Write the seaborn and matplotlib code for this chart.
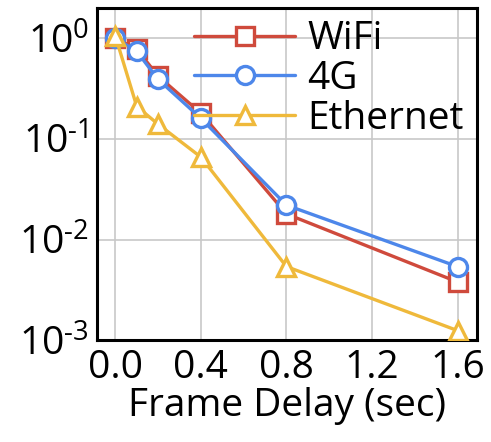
import numpy as np
import pandas as pd
import seaborn as sns
import matplotlib.pyplot as plt

delay = [0.0, 0.1, 0.2, 0.4, 0.8, 1.6]
wifi = [1.0, 0.78, 0.42, 0.18, 0.018, 0.0038]
g4 = [1.0, 0.74, 0.39, 0.16, 0.022, 0.0054]
ethernet = [1.05, 0.21, 0.14, 0.066, 0.0054, 0.00125]
xtick_labels = ["0.0", "0.4", "0.8", "1.2", "1.6"]

series = {"WiFi": wifi, "4G": g4, "Ethernet": ethernet}
colors = {"WiFi": "#cf4a3c", "4G": "#4d87ea", "Ethernet": "#efb93b"}
markers = {"WiFi": "s", "4G": "o", "Ethernet": "^"}

df = pd.concat([pd.DataFrame({"delay": delay, "frac": v, "net": k})
                for k, v in series.items()])

sns.set_style("whitegrid")
plt.rcParams["font.family"] = ["Open Sans", "DejaVu Sans"]
plt.rcParams["mathtext.fontset"] = "custom"
plt.rcParams["mathtext.rm"] = "Open Sans"
plt.rcParams["text.color"] = "black"
plt.rcParams["xtick.color"] = "black"
plt.rcParams["ytick.color"] = "black"
plt.rcParams["axes.labelcolor"] = "black"

fig, ax = plt.subplots(figsize=(4.91, 4.42), dpi=100)
for name in series:
    sub = df[df.net == name]
    sns.lineplot(data=sub, x="delay", y="frac", ax=ax, color=colors[name],
                 marker=markers[name], markersize=13, markerfacecolor="white",
                 markeredgecolor=colors[name], markeredgewidth=2.4,
                 linewidth=2.4, label=name, zorder=3)

ax.set_yscale("log")
ax.set_ylim(1e-3, 2)
ax.set_xlim(-0.085, 1.69)
ax.set_xticks([0.0, 0.4, 0.8, 1.2, 1.6])
ax.set_xticklabels(xtick_labels)
ax.set_yticks([1e-3, 1e-2, 1e-1, 1])
ax.set_yticklabels(["$10^{\u20103}$", "$10^{\u20102}$", "$10^{\u20101}$", "$10^{0}$"])
ax.minorticks_off()
ax.tick_params(labelsize=28, length=0, pad=6)
ax.set_xlabel("Frame Delay (sec)", fontsize=28, labelpad=0)
ax.set_ylabel("")
ax.grid(True, color="#c8c8c8", linewidth=1.2)
for s in ax.spines.values():
    s.set_color("black")
    s.set_linewidth(2.2)

ax.legend(loc="upper right", bbox_to_anchor=(0.975, 0.975), frameon=False,
          fontsize=28, handlelength=2.6, handletextpad=0.3, labelspacing=0.05,
          borderaxespad=0.0, borderpad=0.1)

fig.subplots_adjust(left=0.198, right=0.971, top=0.982, bottom=0.23)
fig.savefig("out.png", dpi=100)
